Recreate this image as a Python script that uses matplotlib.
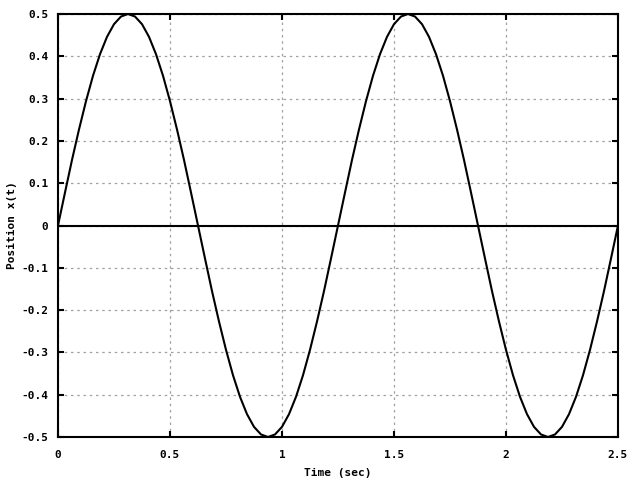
import numpy as np
import matplotlib.pyplot as plt

t = np.arange(81) * 0.03125
x = [0.0, 0.078, 0.155, 0.227, 0.294, 0.354, 0.405, 0.446, 0.476, 0.494,
     0.5, 0.494, 0.476, 0.446, 0.405, 0.354, 0.294, 0.227, 0.155, 0.078,
     0.0, -0.078, -0.155, -0.227, -0.294, -0.354, -0.405, -0.446, -0.476, -0.494,
     -0.5, -0.494, -0.476, -0.446, -0.405, -0.354, -0.294, -0.227, -0.155, -0.078,
     0.0, 0.078, 0.155, 0.227, 0.294, 0.354, 0.405, 0.446, 0.476, 0.494,
     0.5, 0.494, 0.476, 0.446, 0.405, 0.354, 0.294, 0.227, 0.155, 0.078,
     0.0, -0.078, -0.155, -0.227, -0.294, -0.354, -0.405, -0.446, -0.476, -0.494,
     -0.5, -0.494, -0.476, -0.446, -0.405, -0.354, -0.294, -0.227, -0.155, -0.078,
     0.0]

xticks = [0, 0.5, 1, 1.5, 2, 2.5]
xticklabels = ['0', '0.5', '1', '1.5', '2', '2.5']
yticks = [-0.5, -0.4, -0.3, -0.2, -0.1, 0, 0.1, 0.2, 0.3, 0.4, 0.5]
yticklabels = ['-0.5', '-0.4', '-0.3', '-0.2', '-0.1', '0', '0.1', '0.2', '0.3', '0.4', '0.5']

plt.rcParams['font.family'] = 'DejaVu Sans Mono'
plt.rcParams['font.weight'] = 'bold'
plt.rcParams['font.size'] = 8

fig = plt.figure(figsize=(6.4, 4.8), dpi=100)
ax = fig.add_axes([58/640, 1-437/480, 560/640, 423/480])

ax.axhline(0, color='black', lw=1.5, zorder=2)
ax.plot(t, x, color='black', lw=1.5, zorder=3)

ax.set_xlim(0, 2.5)
ax.set_ylim(-0.5, 0.5)
ax.set_xticks(xticks)
ax.set_xticklabels(xticklabels)
ax.set_yticks(yticks)
ax.set_yticklabels(yticklabels)
ax.grid(True, color='#a0a0a0', linestyle=(0, (2, 3)), lw=0.9)
ax.tick_params(direction='in', length=4, width=1.5, top=True, right=True)
ax.tick_params(axis='x', pad=9)
ax.tick_params(axis='y', pad=7)
for s in ax.spines.values():
    s.set_linewidth(1.5)

ax.set_xlabel('Time (sec)', fontweight='bold', labelpad=6)
ax.set_ylabel('Position x(t)', fontweight='bold', labelpad=3)

fig.savefig('out.png', dpi=100)
